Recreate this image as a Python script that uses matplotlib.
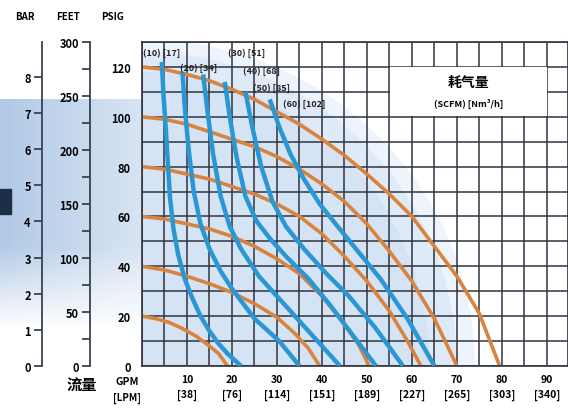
import numpy as np
import matplotlib.pyplot as plt
from matplotlib.patches import Ellipse, Rectangle
from matplotlib.ticker import MultipleLocator

plt.rcParams['font.family'] = ['Liberation Sans Narrow', 'Noto Sans CJK SC', 'DejaVu Sans']
plt.rcParams['font.weight'] = 'bold'

# x axis ticks: flow in GPM and [LPM]
gpm_ticks = [10, 20, 30, 40, 50, 60, 70, 80, 90]
lpm_ticks = [38, 76, 114, 151, 189, 227, 265, 303, 340]
psi_ticks = [0, 20, 40, 60, 80, 100, 120]
bar_ticks = [0, 1, 2, 3, 4, 5, 6, 7, 8]
feet_ticks = [0, 50, 100, 150, 200, 250, 300]

# orange curves: discharge pressure at constant air inlet pressure (GPM, PSIG)
p120_gpm = [0, 5, 10, 15, 20, 25, 30, 35, 40, 45, 50, 55, 60, 65, 70, 75, 79.5]
p120_psi = [120, 119, 117, 114.5, 111, 107, 102, 97, 91, 84.5, 77, 69, 60, 48, 36, 21, 0]
p100_gpm = [0, 5, 10, 15, 20, 25, 30, 35, 40, 45, 50, 55, 60, 65, 70]
p100_psi = [100, 99, 97, 94, 91, 88, 84, 79, 73, 66, 57, 46, 34, 19, 0]
p80_gpm = [0, 5, 10, 15, 20, 25, 30, 35, 40, 45, 50, 55, 59, 62]
p80_psi = [80, 79, 77, 75, 72, 69, 65, 60, 53, 44, 34, 22, 10, 0]
p60_gpm = [0, 5, 10, 15, 20, 25, 30, 35, 40, 44, 48, 50.5]
p60_psi = [60, 59, 57, 55, 52, 48, 43, 37, 28, 19, 9, 0]
p40_gpm = [0, 5, 10, 15, 20, 25, 30, 34, 37, 39.5]
p40_psi = [40, 38.5, 36, 33, 29.5, 25, 19.5, 13, 7, 0]
p20_gpm = [0, 3, 6, 9, 12, 15, 17, 19]
p20_psi = [20, 19, 17.5, 15, 12, 8, 5, 0]

# blue curves: air consumption (SCFM) [Nm3/h]
s10_gpm = [4.4, 4.8, 5.3, 5.8, 6.2, 7, 8, 9.5, 11, 13, 15, 17, 19, 22]
s10_psi = [122, 108, 95, 80, 68, 55, 45, 35, 28, 20, 14, 9, 5, 0]
s20_gpm = [9, 9.5, 10.3, 11.5, 13, 15, 17.5, 20, 25, 30.5, 35]
s20_psi = [118, 104, 88, 70, 57, 47, 38, 31, 19, 10, 0]
s30_gpm = [13.6, 14.5, 15.8, 17.5, 19.5, 22, 26, 31, 37, 44]
s30_psi = [117, 103, 85, 68, 56, 47, 36, 26, 14, 0]
s40_gpm = [18.4, 19.5, 21, 23, 25.5, 28.5, 32, 37, 42, 47, 52]
s40_psi = [114, 100, 84, 68, 58, 51, 44, 35, 24, 12, 0]
s50_gpm = [23, 24.5, 26.5, 29, 32, 36, 41, 46, 52, 58]
s50_psi = [110, 96, 80, 66, 56, 47, 37, 28, 15, 0]
s60_gpm = [28.4, 30.5, 33, 36, 39.5, 43.5, 48, 53, 59, 65]
s60_psi = [107, 96, 85, 75, 65, 56, 46, 35, 19, 0]

air_labels = ['(10) [17]', '(20) [34]', '(30) [51]', '(40) [68]', '(50) [85]', '(60) [102]']

orange = '#d8843f'
blue = '#2a96d4'
grid_c = '#30343f'
scale_c = '#3a4250'

fig = plt.figure(figsize=(5.68, 4.10), dpi=100)

# blurred pump photo on the left
bg = fig.add_axes([0, 0.2, 0.25, 0.555], zorder=-5)
grad = np.linspace(0, 1, 100)
img = np.zeros((60, 100, 4))
img[..., 0] = 0.68 + 0.16 * grad
img[..., 1] = 0.78 + 0.11 * grad
img[..., 2] = 0.90 + 0.05 * grad
fade = np.concatenate([np.full(38, 0.95), np.linspace(0.95, 0.05, 22)])
img[..., 3] = fade[:, None]
bg.imshow(img, aspect='auto', extent=[0, 1, 0, 1])
bg.axis('off')
fig.patches.append(Rectangle((0, 0.476), 0.02, 0.06, transform=fig.transFigure,
                             color='#1d2f45', zorder=-4))

ax = fig.add_axes([0.25, 0.105, 0.75, 0.79])
ax.set_xlim(0, 94.7)
ax.set_ylim(0, 130)
ax.patch.set_alpha(0)

# light blue glow behind the operating range
for w, h, a in [(148, 262, 0.35), (140, 252, 0.5), (128, 236, 0.6)]:
    ax.add_patch(Ellipse((0, 0), w, h, color='#cfe1f4', alpha=a, lw=0, zorder=0.2))

ax.xaxis.set_minor_locator(MultipleLocator(5))
ax.yaxis.set_minor_locator(MultipleLocator(10))
ax.set_axisbelow(True)
for s in ax.spines.values():
    s.set_color(grid_c)
    s.set_linewidth(1.2)

ax.set_xticks(gpm_ticks)
ax.set_xticklabels([f'{g}\n[{l}]' for g, l in zip(gpm_ticks, lpm_ticks)],
                   fontsize=7.5, fontweight='bold', linespacing=1.55)
ax.set_yticks(psi_ticks)
ax.set_yticklabels([str(p) for p in psi_ticks], fontsize=8, fontweight='bold')
ax.grid(which='both', color=grid_c, lw=1.1)
ax.tick_params(which='both', length=0)
ax.tick_params(axis='x', pad=6)
ax.tick_params(axis='y', pad=8)

for gx, py in [(p120_gpm, p120_psi), (p100_gpm, p100_psi), (p80_gpm, p80_psi),
               (p60_gpm, p60_psi), (p40_gpm, p40_psi), (p20_gpm, p20_psi)]:
    ax.plot(gx, py, color=orange, lw=2.6, solid_capstyle='butt', solid_joinstyle='round', zorder=2)

for gx, py in [(s10_gpm, s10_psi), (s20_gpm, s20_psi), (s30_gpm, s30_psi),
               (s40_gpm, s40_psi), (s50_gpm, s50_psi), (s60_gpm, s60_psi)]:
    ax.plot(gx, py, color=blue, lw=3.2, solid_capstyle='butt', solid_joinstyle='round', zorder=3)

label_xy = [(0.3, 126), (8.4, 120), (19.1, 126), (22.4, 118.5), (24.7, 112), (31.3, 105.5)]
for (lx, ly), t in zip(label_xy, air_labels):
    ax.text(lx, ly, t, fontsize=6.5, fontstyle='italic', fontweight='bold',
            va='center', ha='left', color='#222222', zorder=4)

# title box
ax.add_patch(Rectangle((55.2, 100.4), 34.8, 19.6, facecolor='white', edgecolor='none', zorder=1))
ax.text(72.5, 114, '耗气量', fontsize=10, fontweight='bold', ha='center', va='center',
        family=['Noto Sans CJK SC', 'DejaVu Sans'], zorder=4)
ax.text(72.5, 105.5, '(SCFM) [Nm³/h]', fontsize=6.5, fontstyle='italic', fontweight='bold',
        ha='center', va='center', zorder=4)


def side_scale(offset, top, ticks, minor=None):
    s = ax.twinx()
    s.set_ylim(0, top)
    s.spines['left'].set_position(('axes', offset))
    s.spines['left'].set_visible(True)
    s.spines['left'].set_color(scale_c)
    s.spines['left'].set_linewidth(1.3)
    for k in ['right', 'top', 'bottom']:
        s.spines[k].set_visible(False)
    s.yaxis.set_ticks_position('left')
    s.set_yticks(ticks)
    s.set_yticklabels([str(t) for t in ticks], fontsize=8, fontweight='bold')
    if minor:
        s.yaxis.set_minor_locator(MultipleLocator(minor))
    s.tick_params(which='both', direction='out', length=6, width=1.3, color=scale_c, pad=2)
    s.tick_params(axis='x', which='both', bottom=False, labelbottom=False)
    return s


side_scale(-0.122, 300, feet_ticks, minor=25)
side_scale(-0.235, 130 / 14.5, bar_ticks)

# headers and axis names
fig.text(25 / 568, 1 - 17 / 410, 'BAR', fontsize=7, fontweight='bold', ha='center', va='center')
fig.text(68 / 568, 1 - 17 / 410, 'FEET', fontsize=7, fontweight='bold', ha='center', va='center')
fig.text(113 / 568, 1 - 17 / 410, 'PSIG', fontsize=7, fontweight='bold', ha='center', va='center')
fig.text(127 / 568, 1 - 382 / 410, 'GPM', fontsize=7.5, fontweight='bold', ha='center', va='center')
fig.text(127 / 568, 1 - 398 / 410, '[LPM]', fontsize=7, fontweight='bold', ha='center', va='center')
fig.text(82 / 568, 1 - 386 / 410, '流量', fontsize=11, fontweight='bold', ha='center', va='center',
         family=['Noto Sans CJK SC', 'DejaVu Sans'])

fig.savefig('out.png', dpi=100)
